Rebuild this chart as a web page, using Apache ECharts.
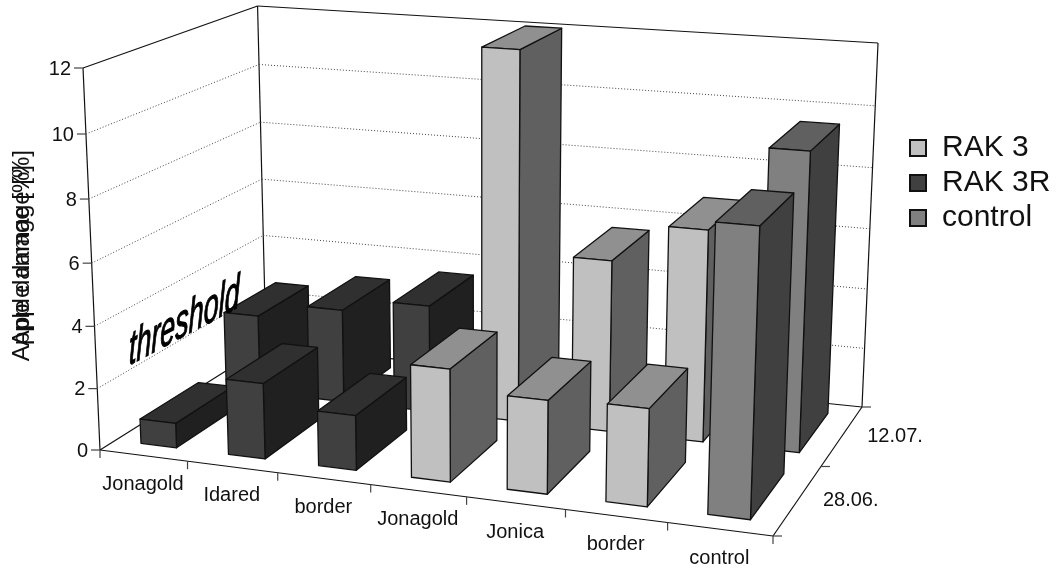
<!DOCTYPE html>
<html>
<head>
<meta charset="utf-8">
<style>html,body{margin:0;padding:0;background:#fff}#chart{width:1058px;height:571px}</style>
<script src="https://cdn.jsdelivr.net/npm/echarts@6/dist/echarts.min.js"></script>
</head>
<body>
<div id="chart"></div>
<script>
// Categories along the front edge and the two sampling dates along the depth edge.
const categories = ['Jonagold', 'Idared', 'border', 'Jonagold', 'Jonica', 'border', 'control'];
const dates = ['28.06.', '12.07.'];
const valueTicks = [0, 2, 4, 6, 8, 10, 12];
const treatments = ['RAK 3', 'RAK 3R', 'control'];

// Damage per category on each date.
const damage2806 = [0.8, 2.43, 1.75, 3.55, 2.92, 3.02, 8.73];
const damage1207 = [2.63, 3.12, 3.55, 12.05, 5.6, 6.85, 9.55];
// Treatment index used by each category.
const categoryTreatment = [1, 1, 1, 0, 0, 0, 2];

const VALUE_MAX = 12;
const BAR_WIDTH = 0.41;   // share of a category slot
const BAR_DEPTH = 0.667;  // share of a date slot
const U_EASE = 0.022;     // softens the foreshortening along the category edge

// Floor of the 3D plot in canvas space, vanishing point of the verticals,
// and where the tops of the three wall corners sit.
const floorQuad = [[100, 450], [773, 536], [862, 407], [266, 345.8]];
const verticalVanish = [482, 9040, 1];
const wallTops = [[83, 68], [257, 6], [878, 43]];
const wallBases = [floorQuad[0], floorQuad[3], floorQuad[2]];

const faceColors = [
  { front: '#c0c0c0', top: '#909090', side: '#606060' },
  { front: '#404040', top: '#303030', side: '#202020' },
  { front: '#808080', top: '#606060', side: '#404040' }
];

// Unit-square to quadrilateral perspective map.
function quadMap(q) {
  const [[x0, y0], [x1, y1], [x2, y2], [x3, y3]] = q;
  const sx = x0 - x1 + x2 - x3, sy = y0 - y1 + y2 - y3;
  const dx1 = x1 - x2, dx2 = x3 - x2, dy1 = y1 - y2, dy2 = y3 - y2;
  const den = dx1 * dy2 - dx2 * dy1;
  const g = (sx * dy2 - dx2 * sy) / den, h = (dx1 * sy - sx * dy1) / den;
  const a = x1 - x0 + g * x1, b = x3 - x0 + h * x3;
  const d = y1 - y0 + g * y1, e = y3 - y0 + h * y3;
  return (u, v) => {
    const w = g * u + h * v + 1;
    return [(a * u + b * v + x0) / w, (d * u + e * v + y0) / w];
  };
}
const quadPoint = quadMap(floorQuad);
const floorAt = (u, v) => quadPoint(u + U_EASE * u * (1 - u), v);

const cross = (a, b) => [a[1] * b[2] - a[2] * b[1], a[2] * b[0] - a[0] * b[2], a[0] * b[1] - a[1] * b[0]];
const dot = (a, b) => a[0] * b[0] + a[1] * b[1] + a[2] * b[2];
const hom = p => [p[0], p[1], 1];

// Raising a floor point is a homology centred on the vertical vanishing point;
// its strength is a linear function of the floor position, solved from the wall corners.
const liftPlane = (() => {
  const V = verticalVanish;
  const rows = wallBases.map(hom);
  const rhs = wallBases.map((f, i) => (f[1] - wallTops[i][1]) / (wallTops[i][1] * V[2] - V[1]));
  const det = dot(rows[0], cross(rows[1], rows[2]));
  const c0 = cross(rows[1], rows[2]), c1 = cross(rows[2], rows[0]), c2 = cross(rows[0], rows[1]);
  return [0, 1, 2].map(k => (rhs[0] * c0[k] + rhs[1] * c1[k] + rhs[2] * c2[k]) / det);
})();

// Position of a point given as category fraction, date fraction and value.
function project(u, v, value) {
  const f = hom(floorAt(u, v));
  const c = dot(liftPlane, f) * value / VALUE_MAX;
  const w = 1 + c * verticalVanish[2];
  return [(f[0] + c * verticalVanish[0]) / w, (f[1] + c * verticalVanish[1]) / w];
}

const EDGE = { stroke: '#111', lineWidth: 1.3, lineJoin: 'round' };

function renderBar(params, api) {
  const cat = api.value(0), row = api.value(1), val = api.value(2), tr = api.value(3);
  const uw = 1 / categories.length, vw = 1 / dates.length;
  const u0 = (cat + (1 - BAR_WIDTH) / 2) * uw, u1 = u0 + BAR_WIDTH * uw;
  const v0 = (row + (1 - BAR_DEPTH) / 2) * vw, v1 = v0 + BAR_DEPTH * vw;
  const c = faceColors[tr];
  const z2 = 10 + (1 - row) * 100 + cat;
  const face = (pts, fill) => ({
    type: 'polygon',
    z2,
    shape: { points: pts },
    style: Object.assign({ fill }, EDGE)
  });
  return {
    type: 'group',
    children: [
      face([project(u1, v0, 0), project(u1, v1, 0), project(u1, v1, val), project(u1, v0, val)], c.side),
      face([project(u0, v0, val), project(u1, v0, val), project(u1, v1, val), project(u0, v1, val)], c.top),
      face([project(u0, v0, 0), project(u1, v0, 0), project(u1, v0, val), project(u0, v0, val)], c.front)
    ]
  };
}

const seg = (a, b, style, z2) => ({
  type: 'line',
  z2: z2 || 1,
  shape: { x1: a[0], y1: a[1], x2: b[0], y2: b[1] },
  style
});
const AXIS = { stroke: '#111', lineWidth: 1.2 };
const GRID = { stroke: '#444', lineWidth: 1, lineDash: [1, 2] };
const TICK = { stroke: '#444', lineWidth: 1.2 };
const LABEL = { fill: '#111', fontFamily: 'Liberation Sans', fontSize: 20 };

function txt(text, x, y, align) {
  return {
    type: 'text',
    z2: 1,
    style: Object.assign({ text, x, y, align, verticalAlign: 'middle' }, LABEL)
  };
}

// Value gridlines across the side and back walls, with their ticks and labels.
function renderValueTick(params, api) {
  const val = api.value(0);
  const a = project(0, 0, val), b = project(0, 1, val), c = project(1, 1, val);
  const children = [
    seg([a[0] - 9, a[1]], a, TICK),
    txt(String(val), a[0] - 12, a[1] + 1, 'right')
  ];
  if (val > 0 && val < VALUE_MAX) {
    children.push(seg(a, b, GRID), seg(b, c, GRID));
  }
  return { type: 'group', children };
}

// Category ticks and labels along the front floor edge.
function renderCategoryTick(params, api) {
  const i = api.value(0), n = categories.length;
  const p = floorAt(i / n, 0), m = floorAt((i + 0.5) / n, 0);
  const children = [seg(p, [p[0], p[1] + 8], TICK)];
  if (i < n) children.push(txt(categories[i], m[0] - 0.5, m[1] + 29, 'center'));
  return { type: 'group', children };
}

// Date ticks and labels along the right floor edge.
function renderDateTick(params, api) {
  const i = api.value(0), n = dates.length;
  const p = floorAt(1, i / n), m = floorAt(1, (i + 0.5) / n);
  const children = [seg(p, [p[0] + 9, p[1]], TICK)];
  if (i < n) children.push(txt(dates[i], m[0] + 25, m[1] + 1, 'left'));
  return { type: 'group', children };
}

// Outline of the walls and the floor.
function renderShell() {
  const e = (a, b) => seg(a, b, AXIS);
  const [fl, fr, br, bl] = floorQuad;
  const tl = project(0, 0, VALUE_MAX), tb = project(0, 1, VALUE_MAX), tr = project(1, 1, VALUE_MAX);
  return {
    type: 'group',
    children: [
      e(fl, fr), e(fr, br), e(br, bl), e(bl, fl),
      e(tl, tb), e(tb, tr),
      e(fl, tl), e(bl, tb), e(br, tr)
    ]
  };
}

function barsFor(tr) {
  const out = [];
  [damage2806, damage1207].forEach((vals, row) => {
    vals.forEach((v, cat) => {
      if (categoryTreatment[cat] === tr) out.push([cat, row, v, tr]);
    });
  });
  return out;
}

const helper = (data, renderItem) => ({
  type: 'custom',
  coordinateSystem: 'none',
  silent: true,
  data,
  renderItem,
  tooltip: { show: false }
});

const titleStyle = { text: 'Apple damage [%]', fontFamily: 'Liberation Sans', fontSize: 24, fill: '#111', align: 'right', verticalAlign: 'middle' };

const chart = echarts.init(document.getElementById('chart'), null, { renderer: 'canvas' });
chart.setOption({
  animation: false,
  backgroundColor: '#fff',
  textStyle: { fontFamily: 'Liberation Sans' },
  legend: {
    data: treatments,
    orient: 'vertical',
    left: 904,
    top: 128,
    icon: 'rect',
    itemWidth: 16,
    itemHeight: 16,
    itemGap: 5,
    selectedMode: false,
    textStyle: { fontSize: 30, color: '#111', fontFamily: 'Liberation Sans', padding: [0, 0, 22, 11] }
  },
  graphic: [
    { type: 'text', x: 22, y: 165, rotation: Math.PI / 2, silent: true, style: titleStyle },
    { type: 'text', x: 22, y: 150, rotation: Math.PI / 2, silent: true, style: titleStyle },
    {
      type: 'text', x: 129, y: 352, skewY: 28 * Math.PI / 180, scaleX: 0.56, silent: true, z: 5,
      style: {
        text: 'threshold', fontFamily: 'Liberation Sans', fontStyle: 'italic', fontSize: 48,
        fill: '#000', stroke: '#000', lineWidth: 1.2, verticalAlign: 'middle'
      }
    }
  ],
  series: [
    helper([0], renderShell),
    helper(valueTicks.map(v => [v]), renderValueTick),
    helper(categories.map((c, i) => [i]).concat([[categories.length]]), renderCategoryTick),
    helper(dates.map((d, i) => [i]).concat([[dates.length]]), renderDateTick)
  ].concat(treatments.map((name, tr) => ({
    name,
    type: 'custom',
    coordinateSystem: 'none',
    silent: true,
    data: barsFor(tr),
    renderItem: renderBar,
    itemStyle: { color: faceColors[tr].front, borderColor: '#111', borderWidth: 1.2 }
  })))
});
</script>
</body>
</html>
